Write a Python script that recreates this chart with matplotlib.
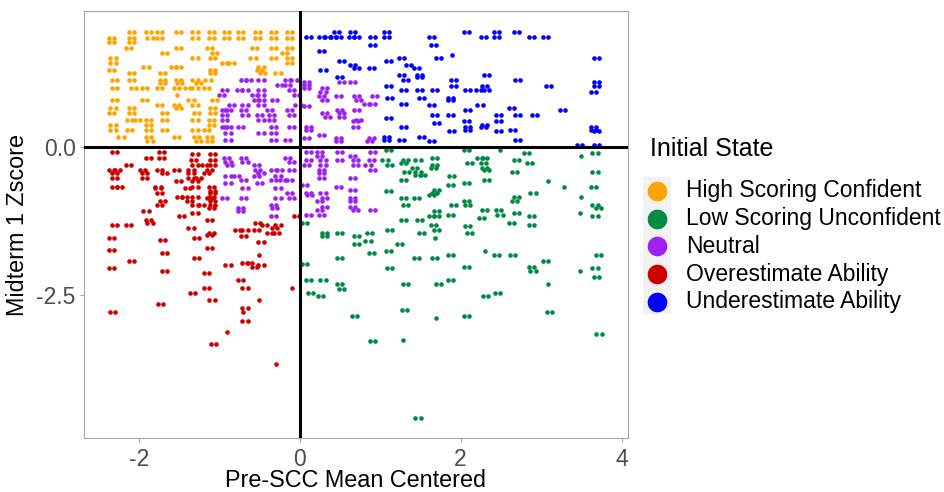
import matplotlib.pyplot as plt
from matplotlib.patches import Rectangle

plt.rcParams['font.family'] = ['Liberation Sans', 'DejaVu Sans']
plt.rcParams['axes.unicode_minus'] = False

states = ['High Scoring Confident', 'Low Scoring Unconfident', 'Neutral',
          'Overestimate Ability', 'Underestimate Ability']
colors = ['#FFA500', '#008B45', '#A020F0', '#CD0000', '#0000FF']

# rows of (midterm 1 zscore, [pre-SCC mean centered]); every listed x is a pair of students
high_conf_rows = [
    (1.93, [-2.09, -1.88, -1.74, -1.51, -1.30, -1.10, -0.91, -0.73, -0.52, -0.33, -0.13]),
    (1.83, [-2.34, -2.09, -1.86, -1.74, -1.30, -1.10, -0.91, -0.73, -0.52, -0.33, -0.13]),
    (1.77, [-2.34, -2.09]),
    (1.66, [-2.13, -1.51, -1.12, -0.56, -0.33, -0.13]),
    (1.58, [-1.68, -1.06, -0.19]),
    (1.49, [-2.32, -1.30, -1.08, -0.58, -0.33, -0.13]),
    (1.41, [-2.32, -0.93, -0.85, -0.13]),
    (1.35, [-1.91, -1.57, -1.51, -0.48]),
    (1.30, [-2.34, -1.08, -0.50]),
    (1.24, [-2.09, -1.70, -1.08, -0.46, -0.27]),
    (1.13, [-2.30, -2.09, -1.70, -1.51, -1.30, -1.14]),
    (1.07, [-1.70, -1.49, -1.26]),
    (0.99, [-2.30, -2.07, -1.93, -1.74, -1.53, -1.39, -1.30, -1.16]),
    (0.79, [-2.30, -1.93, -1.35, -1.06]),
    (0.71, [-1.74, -1.53, -1.30]),
    (0.65, [-2.32, -2.09, -1.51, -1.08]),
    (0.57, [-2.34, -2.09, -1.68, -1.28, -1.08]),
    (0.45, [-2.11, -2.01, -1.88, -1.68, -1.30, -1.10]),
    (0.37, [-2.32, -1.88, -1.10]),
    (0.28, [-2.32, -2.11, -1.88, -1.68, -1.30, -1.16]),
    (0.17, [-2.22, -1.88, -1.53, -1.28, -1.12]),
    (0.09, [-1.86, -1.26, -1.12]),
]
high_conf_single = [(-1.53, 0.87)]

low_unconf_rows = [
    (-0.05, [1.10, 2.07]),
    (-0.11, [2.82, 3.67]),
    (-0.19, [1.68, 2.24, 2.30]),
    (-0.22, [1.06, 1.31, 1.47, 2.69]),
    (-0.28, [1.29, 2.11, 2.28, 2.86]),
    (-0.30, [1.12, 1.68]),
    (-0.36, [1.43, 1.66, 2.30]),
    (-0.39, [2.32]),
    (-0.42, [1.33, 1.47, 2.67, 3.67]),
    (-0.47, [1.47, 1.53]),
    (-0.50, [1.89]),
    (-0.56, [1.29, 2.32]),
    (-0.61, [2.07]),
    (-0.64, [1.87]),
    (-0.67, [3.65]),
    (-0.72, [1.70]),
    (-0.75, [1.10]),
    (-0.78, [1.68, 2.90]),
    (-0.81, [1.64]),
    (-0.84, [2.69]),
    (-0.87, [1.29, 1.45]),
    (-0.92, [2.07, 2.67]),
    (-0.98, [1.31, 1.91, 2.09, 3.67]),
    (-1.03, [3.71]),
    (-1.06, [2.30, 2.47]),
    (-1.09, [1.70]),
    (-1.12, [2.69]),
    (-1.15, [1.87, 2.49]),
    (-1.17, [1.64, 1.70, 2.88, 3.67]),
    (-1.20, [2.26]),
    (-1.23, [1.29, 1.49]),
    (-1.29, [0.06, 2.63]),
    (-1.32, [1.66, 2.88]),
    (-1.34, [2.09]),
    (-1.40, [1.12, 1.70]),
    (-1.46, [0.31, 0.50, 0.87, 1.51, 2.11]),
    (-1.51, [0.31, 0.71]),
    (-1.58, [0.85]),
    (-1.64, [0.71, 1.24]),
    (-1.75, [1.10]),
    (-1.79, [0.89]),
    (-1.83, [1.87, 2.45, 2.65, 3.71]),
    (-1.87, [0.50, 1.45, 1.68]),
    (-1.92, [3.05]),
    (-1.98, [0.06]),
    (-2.03, [2.07, 2.88]),
    (-2.05, [1.12, 3.67]),
    (-2.10, [2.90]),
    (-2.19, [3.69]),
    (-2.24, [0.11, 0.29, 1.87]),
    (-2.32, [0.50, 1.31, 1.72]),
    (-2.40, [0.52]),
    (-2.46, [0.13, 2.46]),
    (-2.52, [0.26, 2.31]),
    (-2.75, [1.30]),
    (-2.79, [3.10]),
    (-2.86, [0.68, 2.07]),
    (-3.16, [3.72]),
    (-3.28, [0.91]),
    (-4.58, [1.47]),
]
low_unconf_single = [(2.49, -0.05), (3.50, -0.15), (3.09, -0.58), (3.29, -0.67), (3.50, -0.84),
                     (3.48, -1.12), (1.68, -1.54), (2.30, -1.75), (3.48, -2.10), (3.09, -2.32),
                     (1.69, -2.89), (1.28, -3.26)]

neutral_rows = [
    (1.13, [-0.70, -0.64, -0.48, -0.15, -0.07]),
    (1.10, [0.09, 0.52, 0.66]),
    (1.04, [-0.25, -0.15, 0.09]),
    (0.99, [0.09, 0.31]),
    (0.96, [-0.93, -0.75, -0.68, -0.48, -0.10]),
    (0.93, [0.29]),
    (0.87, [-0.97, -0.56, -0.48, -0.04]),
    (0.85, [0.27, 0.48, 0.71, 0.93]),
    (0.79, [-0.54, -0.48, -0.31, 0.31, 0.73]),
    (0.73, [0.83, 0.91]),
    (0.71, [-0.85, -0.68, -0.48, -0.02]),
    (0.68, [0.09]),
    (0.62, [-0.93, -0.89, -0.70, -0.37, -0.13, 0.50, 0.71]),
    (0.57, [0.31, 0.52]),
    (0.54, [-0.93, -0.68, -0.50, -0.35, -0.10]),
    (0.51, [0.35, 0.52]),
    (0.45, [-0.93, -0.48, -0.35, 0.73]),
    (0.43, [0.69]),
    (0.34, [-0.93, -0.89, -0.73, -0.33, -0.10, 0.11, 0.69]),
    (0.29, [0.11]),
    (0.23, [-0.89, -0.48, -0.33]),
    (0.20, [0.27]),
    (0.15, [0.09, 0.48, 0.89]),
    (0.12, [-0.89, -0.33, -0.15]),
    (0.09, [0.48, 0.87]),
    (-0.08, [0.11, 0.25, 0.50, 0.91]),
    (-0.16, [0.25, 0.66]),
    (-0.19, [-0.91, -0.70, -0.15]),
    (-0.22, [0.11, 0.29, 0.50, 0.69, 0.89]),
    (-0.25, [-0.89, -0.68, -0.10]),
    (-0.30, [-0.87, -0.54, 0.09, 0.29, 0.69, 0.85]),
    (-0.39, [-0.52, -0.33, -0.25, -0.10, 0.27, 0.91]),
    (-0.44, [-0.48, 0.27]),
    (-0.50, [-0.89, -0.79, -0.54, -0.27]),
    (-0.53, [0.27, 0.66]),
    (-0.56, [-0.70, -0.33, -0.21, -0.13]),
    (-0.61, [-0.89, -0.50]),
    (-0.64, [0.06]),
    (-0.67, [0.48]),
    (-0.70, [-0.68, -0.27]),
    (-0.72, [0.66]),
    (-0.78, [-0.13, 0.11, 0.29]),
    (-0.81, [0.12]),
    (-0.87, [-0.93, -0.70, -0.27, -0.10, 0.31, 0.66]),
    (-0.92, [0.25, 0.66]),
    (-0.98, [-0.33]),
    (-1.01, [0.31, 0.66]),
    (-1.03, [-0.73, -0.31]),
    (-1.06, [0.25, 0.69, 0.91]),
    (-1.09, [-0.73]),
    (-1.15, [0.11, 0.27]),
    (-1.17, [-0.33]),
]
neutral_single = []

over_rows = [
    (-0.08, [-2.30, -1.72]),
    (-0.12, [-1.30, -1.08]),
    (-0.19, [-1.88, -1.72]),
    (-0.22, [-1.32, -1.08]),
    (-0.30, [-2.13, -1.30, -1.18, -1.08]),
    (-0.39, [-2.34, -2.26, -1.95, -1.74, -1.53, -1.35, -1.12]),
    (-0.44, [-2.30, -1.93, -1.68, -1.35, -1.16]),
    (-0.53, [-2.30, -1.93, -1.35, -1.26]),
    (-0.58, [-1.51, -1.30]),
    (-0.67, [-2.30, -2.24, -1.76, -1.30, -1.10]),
    (-0.70, [-1.76, -1.39]),
    (-0.75, [-1.08]),
    (-0.78, [-1.74, -1.08]),
    (-0.84, [-1.49, -1.43, -1.30, -1.10]),
    (-0.87, [-1.12]),
    (-0.92, [-1.70, -1.37, -1.08]),
    (-0.98, [-1.74, -1.30, -1.22, -1.08]),
    (-1.03, [-1.10]),
    (-1.09, [-1.91]),
    (-1.12, [-1.30]),
    (-1.17, [-1.47, -0.04]),
    (-1.23, [-1.88, -1.12]),
    (-1.29, [-1.86, -0.52]),
    (-1.32, [-2.30, -2.13, -0.44, -0.27]),
    (-1.37, [-1.35, -0.31]),
    (-1.40, [-0.77, -0.68, -0.54]),
    (-1.46, [-1.10, -0.37, -0.29]),
    (-1.48, [-1.12]),
    (-1.51, [-0.70]),
    (-1.54, [-2.34, -1.28]),
    (-1.57, [-1.70]),
    (-1.60, [-0.48]),
    (-1.71, [-1.12]),
    (-1.74, [-2.34]),
    (-1.79, [-1.68]),
    (-1.87, [-1.28]),
    (-1.92, [-2.09]),
    (-1.96, [-0.68, -0.62]),
    (-1.99, [-0.89, -0.48]),
    (-2.02, [-0.56]),
    (-2.05, [-2.34]),
    (-2.10, [-1.68]),
    (-2.13, [-1.16]),
    (-2.24, [-0.73]),
    (-2.38, [-1.16, -0.68]),
    (-2.46, [-1.33]),
    (-2.58, [-1.09]),
    (-2.65, [-1.73]),
    (-2.72, [-0.68]),
    (-2.78, [-2.33]),
    (-2.93, [-0.68]),
    (-3.33, [-1.07]),
]
over_single = [(-0.50, -1.82), (-0.10, -2.38), (-0.50, -2.58), (-0.70, -2.78), (-0.90, -3.12),
               (-0.30, -3.67)]

under_rows = [
    (1.93, [0.46, 0.66, 1.08, 2.07, 2.45, 2.69]),
    (1.85, [0.11, 0.27, 0.35, 0.42, 0.48, 0.64, 0.71, 0.91, 1.08, 1.64, 2.28, 2.45, 2.88, 3.05]),
    (1.72, [0.91, 1.66]),
    (1.61, [0.27]),
    (1.49, [1.27, 1.72, 3.69]),
    (1.44, [0.52, 1.10]),
    (1.38, [0.66, 1.35]),
    (1.33, [0.71, 0.89, 1.45]),
    (1.30, [0.29]),
    (1.21, [1.27, 1.49, 2.32]),
    (1.18, [0.50, 1.49]),
    (1.13, [1.31, 1.91, 2.71]),
    (1.10, [3.69]),
    (1.02, [1.10, 1.91, 2.30, 3.09, 3.69]),
    (0.96, [1.29, 1.49, 1.68, 2.09, 2.22, 2.32]),
    (0.93, [3.65]),
    (0.82, [1.12, 1.51, 1.87]),
    (0.79, [1.87]),
    (0.73, [1.29]),
    (0.71, [1.64, 2.24]),
    (0.65, [2.63]),
    (0.62, [2.09, 3.27]),
    (0.54, [1.68, 1.87, 2.47, 2.71, 2.92]),
    (0.48, [1.10]),
    (0.43, [2.07, 2.47]),
    (0.40, [1.70]),
    (0.37, [2.30]),
    (0.34, [1.29, 2.09, 2.28, 3.65]),
    (0.29, [2.09, 2.65, 3.65]),
    (0.26, [1.89, 2.47, 3.69]),
    (0.17, [1.08, 1.51]),
    (0.12, [1.08, 1.27, 2.71]),
    (0.09, [1.64]),
    (0.03, [3.48, 3.69]),
]
under_single = [(1.89, 1.55)]

DODGE = 0.032


def expand(rows, singles):
    xs, ys = [], []
    for y, row in rows:
        for x in row:
            xs += [x - DODGE, x + DODGE]
            ys += [y, y]
    for x, y in singles:
        xs.append(x)
        ys.append(y)
    return xs, ys


groups = [(high_conf_rows, high_conf_single), (low_unconf_rows, low_unconf_single),
          (neutral_rows, neutral_single), (over_rows, over_single), (under_rows, under_single)]

W, H = 945, 492
fig = plt.figure(figsize=(W / 100, H / 100), dpi=100)
ax = fig.add_axes([84 / W, 1 - 438 / H, 544 / W, 427 / H])

for (rows, singles), c in zip(groups, colors):
    xs, ys = expand(rows, singles)
    ax.scatter(xs, ys, s=11, color=c, linewidths=0, zorder=2)

ax.axhline(0, color='black', lw=2.2, zorder=3)
ax.axvline(0, color='black', lw=2.2, zorder=3)

ax.set_xlim(-2.68, 4.08)
ax.set_ylim(-4.91, 2.29)
ax.set_xticks([-2, 0, 2, 4])
ax.set_yticks([0.0, -2.5])
ax.set_yticklabels(['0.0', '-2.5'])
for sp in ax.spines.values():
    sp.set_color('#a6a6a6')
    sp.set_linewidth(0.8)
ax.tick_params(length=3, width=0.8, color='#a6a6a6', labelsize=16.5, labelcolor='#4d4d4d', pad=3)
ax.tick_params(axis='x', pad=4)
ax.set_xlabel('Pre-SCC Mean Centered', fontsize=16.8, labelpad=-1)
ax.set_ylabel('Midterm 1 Zscore', fontsize=16.8, labelpad=5)

# legend drawn by hand in pixel space
lg = fig.add_axes([0, 0, 1, 1])
lg.set_xlim(0, W)
lg.set_ylim(H, 0)
lg.axis('off')
lg.text(650, 149, 'Initial State', fontsize=18, va='center', ha='left')
lg.add_patch(Rectangle((643, 177), 28, 137, color='#f2f2f2', lw=0))
for i, (label, c) in enumerate(zip(states, colors)):
    yy = 191 + i * 27.7
    lg.scatter([657], [yy], s=200, color=c, linewidths=0)
    lg.text(686, yy, label, fontsize=16.5, va='center', ha='left')

fig.savefig('out.png', dpi=100)
